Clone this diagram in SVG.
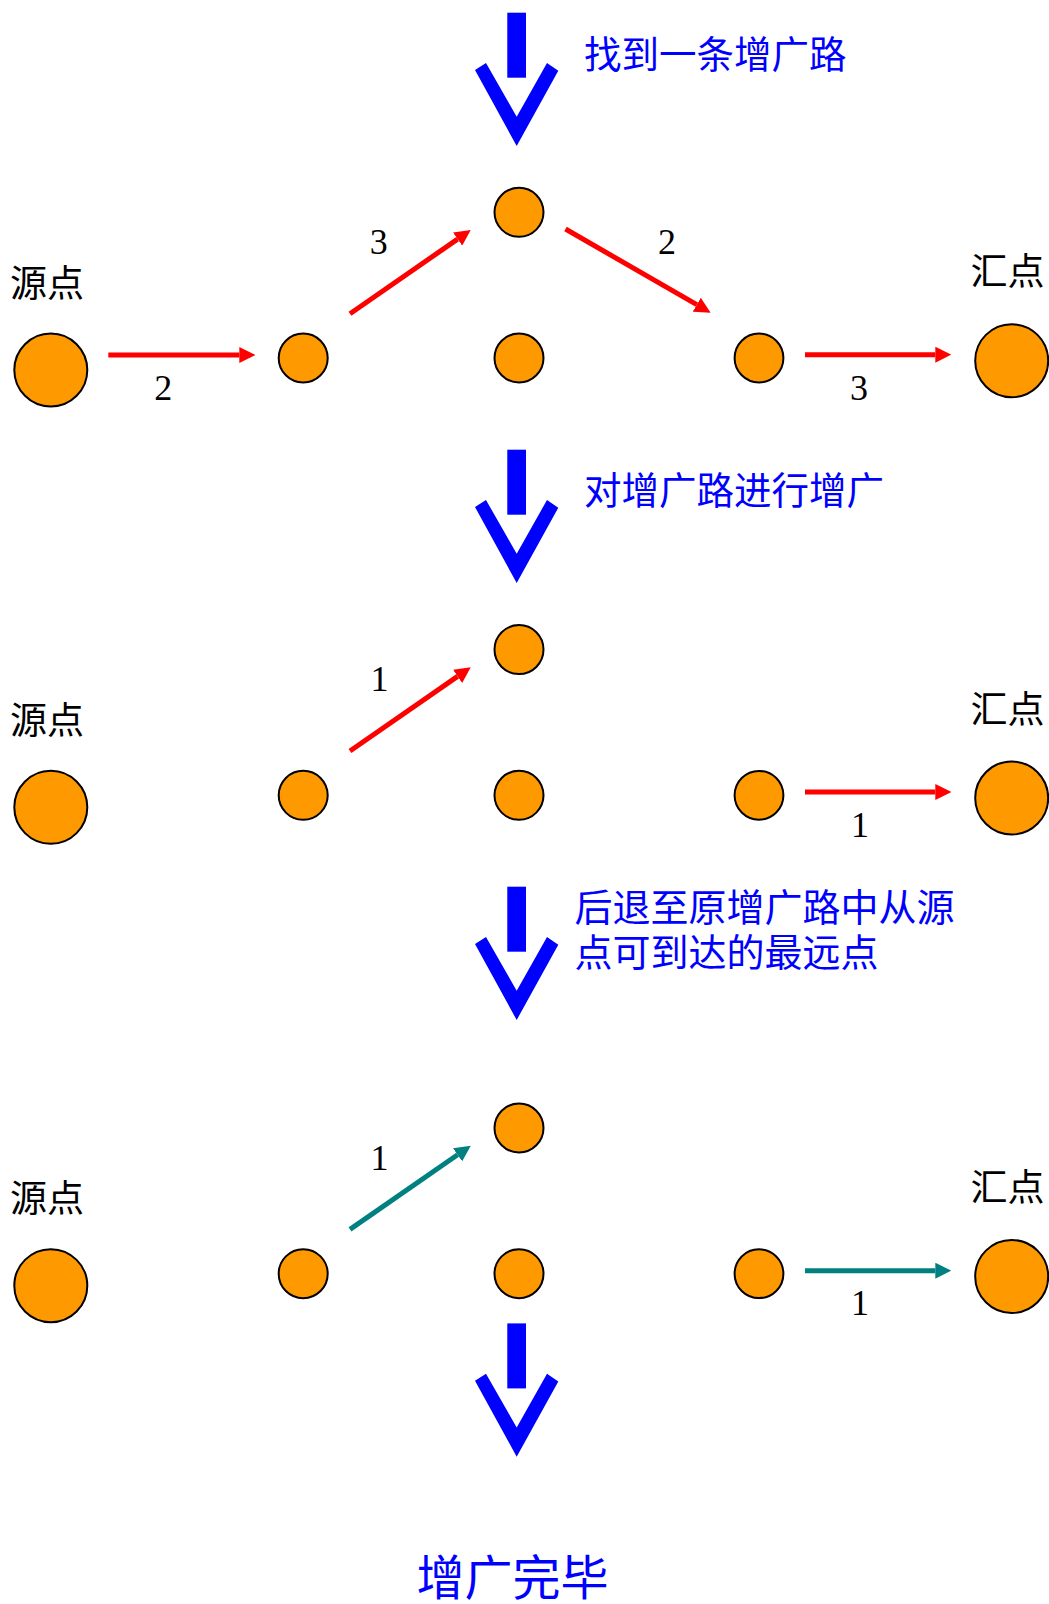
<svg xmlns="http://www.w3.org/2000/svg" width="1049" height="1604" viewBox="0 0 1049 1604">
  <style>
    .node { fill: #FF9900; stroke: #000000; stroke-width: 2; }
    .lbl { font-family: "Noto Sans CJK SC", "Noto Sans", sans-serif; font-size: 37px; fill: #000000; }
    .blue { font-family: "Noto Sans CJK SC", "Noto Sans", sans-serif; font-size: 37.5px; fill: #0000FF; }
    .blue3 { font-family: "Noto Sans CJK SC", "Noto Sans", sans-serif; font-size: 38px; fill: #0000FF; }
    .num { font-family: "Liberation Serif", "Times New Roman", serif; font-size: 36px; fill: #000000; text-anchor: middle; }
    .red { stroke: #FF0000; stroke-width: 5; fill: none; marker-end: url(#ahRed); }
    .teal { stroke: #008080; stroke-width: 5; fill: none; marker-end: url(#ahTeal); }
    .bigarrow { fill: #0000FF; }
  </style>
  <defs>
    <marker id="ahRed" viewBox="0 0 16 16" refX="0" refY="8" markerWidth="16" markerHeight="16" markerUnits="userSpaceOnUse" orient="auto">
      <path d="M0,0 L16,8 L0,16 z" fill="#FF0000"/>
    </marker>
    <marker id="ahTeal" viewBox="0 0 16 16" refX="0" refY="8" markerWidth="16" markerHeight="16" markerUnits="userSpaceOnUse" orient="auto">
      <path d="M0,0 L16,8 L0,16 z" fill="#008080"/>
    </marker>
    <g id="downArrow">
      <rect x="507.3" y="12.7" width="18.7" height="65"/>
      <polygon points="475,70 516.7,146 558.3,70.7 547,63 516.7,116.7 486,63"/>
    </g>
  </defs>

  <!-- Step arrows and captions -->
  <g id="step1" class="bigarrow">
    <use href="#downArrow"/>
    <text class="blue" x="584" y="68">找到一条增广路</text>
  </g>
  <g id="step2" class="bigarrow">
    <use href="#downArrow" transform="translate(0,437)"/>
    <text class="blue" x="584" y="504">对增广路进行增广</text>
  </g>
  <g id="step3" class="bigarrow">
    <use href="#downArrow" transform="translate(0,874)"/>
    <text class="blue3" x="574.5" y="921">后退至原增广路中从源</text>
    <text class="blue3" x="574.5" y="966">点可到达的最远点</text>
  </g>
  <g id="step4" class="bigarrow">
    <use href="#downArrow" transform="translate(0,1310.7)"/>
  </g>
  <text id="done" x="416.5" y="1595" style="font-family: 'Noto Sans CJK SC', 'Noto Sans', sans-serif; font-size: 48px; fill: #0000FF;">增广完毕</text>

  <!-- Row 1 -->
  <g id="row1">
    <g id="r1-source"><circle class="node" cx="50.8" cy="370" r="36.5"/><text class="lbl" x="10" y="297">源点</text></g>
    <g id="r1-a"><circle class="node" cx="303.2" cy="358" r="24.5"/></g>
    <g id="r1-top"><circle class="node" cx="519" cy="212.3" r="24.5"/></g>
    <g id="r1-mid"><circle class="node" cx="519" cy="358" r="24.5"/></g>
    <g id="r1-b"><circle class="node" cx="759" cy="358" r="24.4"/></g>
    <g id="r1-sink"><circle class="node" cx="1011.7" cy="360.7" r="36.5"/><text class="lbl" x="970.5" y="285">汇点</text></g>
  </g>

  <!-- Row 2 -->
  <g id="row2">
    <g id="r2-source"><circle class="node" cx="50.8" cy="807.3" r="36.5"/><text class="lbl" x="10" y="734">源点</text></g>
    <g id="r2-a"><circle class="node" cx="303.2" cy="795.3" r="24.5"/></g>
    <g id="r2-top"><circle class="node" cx="519" cy="649.6" r="24.5"/></g>
    <g id="r2-mid"><circle class="node" cx="519" cy="795.3" r="24.5"/></g>
    <g id="r2-b"><circle class="node" cx="759" cy="795.3" r="24.4"/></g>
    <g id="r2-sink"><circle class="node" cx="1011.7" cy="798" r="36.5"/><text class="lbl" x="970.5" y="722.5">汇点</text></g>
  </g>

  <!-- Row 3 -->
  <g id="row3">
    <g id="r3-source"><circle class="node" cx="50.8" cy="1285.7" r="36.5"/><text class="lbl" x="10" y="1212">源点</text></g>
    <g id="r3-a"><circle class="node" cx="303.2" cy="1273.7" r="24.5"/></g>
    <g id="r3-top"><circle class="node" cx="519" cy="1128" r="24.5"/></g>
    <g id="r3-mid"><circle class="node" cx="519" cy="1273.7" r="24.5"/></g>
    <g id="r3-b"><circle class="node" cx="759" cy="1273.7" r="24.4"/></g>
    <g id="r3-sink"><circle class="node" cx="1011.7" cy="1276.4" r="36.5"/><text class="lbl" x="970.5" y="1201">汇点</text></g>
  </g>

  <!-- Connectors -->
  <g id="connectors">
    <line class="red" x1="108.3" y1="355" x2="239.3" y2="355"/>
    <line class="red" x1="350" y1="313.7" x2="457.6" y2="239.1"/>
    <line class="red" x1="565.5" y1="229" x2="696.8" y2="304.7"/>
    <line class="red" x1="805" y1="354.7" x2="935.3" y2="354.7"/>

    <line class="red" x1="350" y1="751" x2="457.6" y2="676.4"/>
    <line class="red" x1="805" y1="792" x2="935.3" y2="792"/>

    <line class="teal" x1="350" y1="1229.4" x2="457.6" y2="1154.8"/>
    <line class="teal" x1="805" y1="1270.7" x2="935.3" y2="1270.7"/>
  </g>

  <!-- Capacity labels -->
  <g id="labels">
    <text class="num" x="163.3" y="400">2</text>
    <text class="num" x="378.8" y="254">3</text>
    <text class="num" x="667" y="254">2</text>
    <text class="num" x="859" y="400">3</text>
    <text class="num" x="379.5" y="691">1</text>
    <text class="num" x="860" y="837">1</text>
    <text class="num" x="379.5" y="1170">1</text>
    <text class="num" x="860" y="1315">1</text>
  </g>
</svg>
